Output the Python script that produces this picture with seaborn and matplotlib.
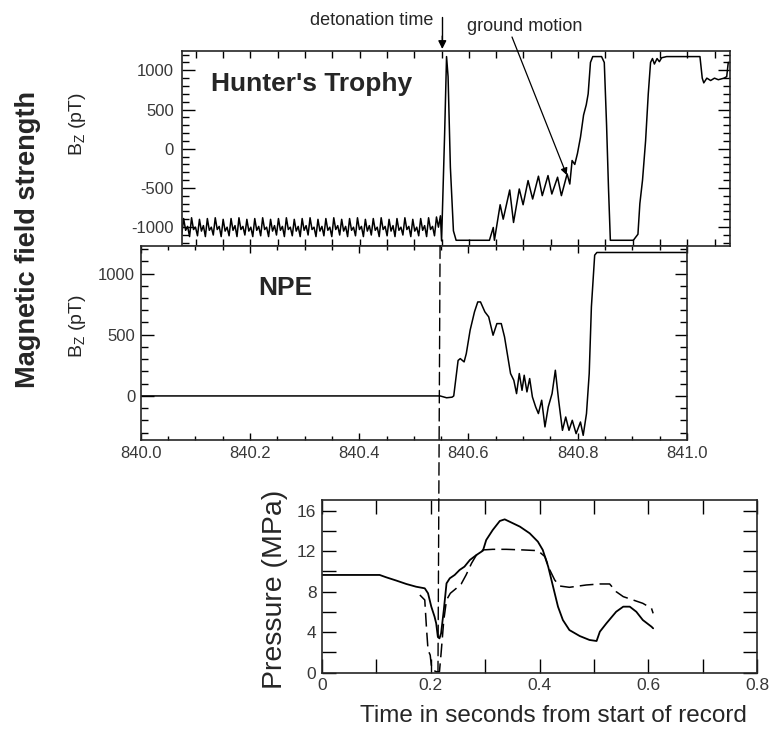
import numpy as np
import pandas as pd
import matplotlib
matplotlib.use("Agg")
import matplotlib.pyplot as plt
import seaborn as sns
from matplotlib.patches import ConnectionPatch
from matplotlib.ticker import MultipleLocator, FixedLocator

# ---- Hunter's Trophy trace (Bz, pT) ----
# pre-detonation ripple, sampled evenly between these two times
pre_t_start, pre_t_end = 840.0744, 840.5480
hunter_pre_bz = [
    -1100, -890, -1040, -990, -1120, -880, -1030, -1000,
    -1110, -900, -1050, -980, -1120, -890, -1040, -1000,
    -1100, -880, -1030, -990, -1120, -900, -1050, -1000,
    -1110, -890, -1040, -980, -1120, -880, -1030, -990,
    -1100, -900, -1050, -1000, -1120, -890, -1040, -990,
    -1110, -880, -1030, -1000, -1120, -900, -1050, -980,
    -1100, -890, -1040, -990, -1120, -880, -1030, -1000,
    -1110, -900, -1050, -990, -1120, -890, -1040, -980,
    -1100, -880, -1030, -1000, -1120, -900, -1050, -990,
    -1110, -890, -1040, -1000, -1120, -880, -1030, -980,
    -1100, -900, -1050, -990, -1120, -890, -1040, -1000,
    -1110, -880, -1030, -990, -1120, -900, -1050, -980,
    -1100, -890, -1040, -1000, -1120, -880, -1030, -990,
    -1110, -900, -1050, -980, -1120, -890, -1040, -1000,
    -1100, -880, -1030, -990, -1120, -900, -1050, -1000,
    -1110, -890, -1040, -980, -1120, -880, -1030, -990,
    -1110, -870, -1000, -855,
]
hunter_post_t = [
    840.5501, 840.5557, 840.5592, 840.5620, 840.5662, 840.5718, 840.5767,
    840.6377, 840.6447, 840.6468, 840.6573, 840.6629, 840.6748, 840.6818,
    840.6923, 840.6993, 840.7084, 840.7168, 840.7274, 840.7344, 840.7449,
    840.7519, 840.7624, 840.7694, 840.7799, 840.7848, 840.7890, 840.7939,
    840.7988, 840.8044, 840.8100, 840.8149, 840.8184, 840.8226, 840.8268,
    840.8429, 840.8479, 840.8521, 840.8556, 840.8590, 840.9011, 840.9095,
    840.9130, 840.9179, 840.9235, 840.9284, 840.9326, 840.9361, 840.9396,
    840.9445, 840.9487, 840.9529, 840.9620, 841.0230, 841.0272, 841.0300,
    841.0356, 841.0426, 841.0496, 841.0566, 841.0671, 841.0720, 841.0748,
    841.0776,
]
hunter_post_bz = [
    -1175, 192, 1175, 919, -235, -1047, -1167,
    -1167, -1004, -1167, -714, -898, -526, -940,
    -513, -714, -406, -641, -350, -598, -342,
    -577, -363, -598, -321, -450, -150, -200,
    -60, 150, 430, 560, 700, 1100, 1175,
    1175, 1100, 300, -500, -1167, -1167, -1090,
    -700, -400, 100, 700, 1100, 1150, 1080,
    1150, 1110, 1160, 1175, 1175, 900, 840,
    900, 870, 900, 880, 900, 920, 1100,
    1100,
]

# ---- NPE trace (Bz, pT) ----
npe_t = [
    840.000, 840.548, 840.560, 840.570, 840.573, 840.581, 840.585, 840.592,
    840.596, 840.603, 840.611, 840.617, 840.622, 840.630, 840.637, 840.645,
    840.652, 840.660, 840.666, 840.672, 840.677, 840.683, 840.688, 840.693,
    840.698, 840.702, 840.707, 840.712, 840.717, 840.723, 840.728, 840.734,
    840.740, 840.746, 840.753, 840.759, 840.765, 840.772, 840.778, 840.784,
    840.790, 840.797, 840.805, 840.810, 840.816, 840.821, 840.825, 840.831,
    840.835, 841.000,
]
npe_bz = [
    0, 0, -15, -10, 0, 290, 305, 278,
    346, 537, 687, 768, 768, 687, 646, 496,
    591, 591, 482, 319, 183, 128, 19, 183,
    46, 169, 33, 142, -8, -90, -144, -35,
    -253, -90, 19, 210, -35, -281, -172, -281,
    -199, -308, -213, -322, -144, 183, 728, 1150,
    1172, 1172,
]

# ---- Pressure records (MPa) ----
p_solid_t = [
    0.000, 0.106, 0.118, 0.137, 0.155, 0.173, 0.189, 0.195, 0.201, 0.207,
    0.210, 0.213, 0.216, 0.219, 0.224, 0.229, 0.235, 0.244, 0.253, 0.262,
    0.272, 0.284, 0.296, 0.302, 0.314, 0.327, 0.336, 0.345, 0.364, 0.382,
    0.397, 0.406, 0.416, 0.425, 0.434, 0.443, 0.455, 0.474, 0.492, 0.505,
    0.511, 0.523, 0.541, 0.554, 0.566, 0.578, 0.590, 0.606, 0.609,
]
p_solid = [
    9.65, 9.65, 9.42, 9.09, 8.76, 8.49, 8.33, 7.84, 6.52, 5.53,
    4.87, 3.56, 3.39, 3.88, 6.19, 8.82, 9.32, 9.65, 10.14, 10.47,
    11.13, 11.62, 12.05, 13.10, 14.09, 14.98, 15.14, 14.91, 14.42, 13.76,
    12.94, 12.12, 10.47, 8.49, 6.52, 5.20, 4.21, 3.62, 3.23, 3.13,
    4.05, 4.87, 6.02, 6.52, 6.52, 6.02, 5.20, 4.54, 4.38,
]
p_dash_t = [
    0.180, 0.189, 0.192, 0.195, 0.199, 0.201, 0.204, 0.210, 0.216, 0.219,
    0.224, 0.229, 0.236, 0.247, 0.256, 0.265, 0.275, 0.284, 0.296, 0.314,
    0.339, 0.370, 0.397, 0.410, 0.419, 0.428, 0.437, 0.455, 0.486, 0.511,
    0.529, 0.541, 0.554, 0.572, 0.590, 0.606, 0.609,
]
p_dash = [
    7.67, 7.18, 4.54, 2.24, 1.74, 0.76, 0.26, 0.10, 0.10, 1.91,
    5.20, 7.18, 7.84, 8.33, 8.76, 9.65, 10.80, 11.62, 12.12, 12.18,
    12.18, 12.12, 12.05, 11.46, 10.14, 9.15, 8.56, 8.43, 8.66, 8.76,
    8.76, 8.00, 7.51, 7.18, 6.85, 6.35, 5.86,
]

detonation_t = 840.548
detonation_p_t = 0.2133

sns.set_style("ticks")
plt.rcParams["font.family"] = ["Liberation Sans", "DejaVu Sans"]
plt.rcParams["mathtext.default"] = "regular"
plt.rcParams["axes.unicode_minus"] = False
plt.rcParams["axes.linewidth"] = 1.2
plt.rcParams["xtick.color"] = "black"
plt.rcParams["ytick.color"] = "black"

tick_color = "#383838"

fig = plt.figure(figsize=(7.71, 7.30), dpi=100)
W, H = 771.0, 730.0


def px_axes(left, top, right, bottom):
    return fig.add_axes([left / W, 1 - bottom / H, (right - left) / W, (bottom - top) / H])


ax_top = px_axes(182, 50.7, 730, 246)
ax_mid = px_axes(140.7, 246, 687, 440)
ax_p = px_axes(322, 500, 757, 672.7)

# top panel
hunter_t = list(np.linspace(pre_t_start, pre_t_end, len(hunter_pre_bz))) + hunter_post_t
hunter_bz = hunter_pre_bz + hunter_post_bz
hunter_df = pd.DataFrame({"t": hunter_t, "bz": hunter_bz})
sns.lineplot(data=hunter_df, x="t", y="bz", ax=ax_top, color="black", lw=1.1,
             sort=False, estimator=None)
ax_top.set_xlim(840.075, 841.078)
ax_top.set_ylim(-1240, 1250)
ax_top.yaxis.set_major_locator(FixedLocator([-1000, -500, 0, 500, 1000]))
ax_top.yaxis.set_minor_locator(MultipleLocator(100))
ax_top.xaxis.set_major_locator(MultipleLocator(0.2))
ax_top.xaxis.set_minor_locator(MultipleLocator(0.05))
ax_top.set_xticklabels([])
ax_top.text(0.0526, 0.796, "Hunter's Trophy", transform=ax_top.transAxes,
            fontsize=19, fontweight="bold", va="baseline", ha="left")

# middle panel
npe_df = pd.DataFrame({"t": npe_t, "bz": npe_bz})
sns.lineplot(data=npe_df, x="t", y="bz", ax=ax_mid, color="black", lw=1.1,
             sort=False, estimator=None)
ax_mid.set_xlim(840.0, 841.0)
ax_mid.set_ylim(-360, 1225)
ax_mid.yaxis.set_major_locator(FixedLocator([0, 500, 1000]))
ax_mid.yaxis.set_minor_locator(MultipleLocator(100))
ax_mid.xaxis.set_minor_locator(MultipleLocator(0.05))
ax_mid.set_xticks([840.0, 840.2, 840.4, 840.6, 840.8, 841.0])
ax_mid.set_xticklabels(["840.0", "840.2", "840.4", "840.6", "840.8", "841.0"])
ax_mid.text(0.2147, 0.747, "NPE", transform=ax_mid.transAxes,
            fontsize=19, fontweight="bold", va="baseline", ha="left")

# pressure panel
solid_df = pd.DataFrame({"t": p_solid_t, "p": p_solid})
dash_df = pd.DataFrame({"t": p_dash_t, "p": p_dash})
sns.lineplot(data=solid_df, x="t", y="p", ax=ax_p, color="black", lw=1.3,
             sort=False, estimator=None)
sns.lineplot(data=dash_df, x="t", y="p", ax=ax_p, color="black", lw=1.1,
             sort=False, estimator=None, dashes=False, linestyle=(0, (9, 4)))
ax_p.set_xlim(0, 0.8)
ax_p.set_ylim(0, 17.05)
ax_p.set_xticks([0, 0.2, 0.4, 0.6, 0.8])
ax_p.set_xticklabels(["0", "0.2", "0.4", "0.6", "0.8"])
ax_p.xaxis.set_minor_locator(MultipleLocator(0.1))
ax_p.set_yticks([0, 4, 8, 12, 16])
ax_p.yaxis.set_minor_locator(MultipleLocator(2))

for ax in (ax_top, ax_mid, ax_p):
    ax.set_xlabel("")
    ax.set_ylabel("")
    ax.tick_params(which="both", direction="in", top=True, right=True,
                   labelsize=12, labelcolor=tick_color, width=1.0)
    ax.tick_params(which="major", length=9, pad=4)
    ax.tick_params(which="minor", length=5)
ax_top.tick_params(axis="y", which="major", pad=6)
ax_mid.tick_params(axis="x", which="major", length=5)
ax_mid.tick_params(axis="x", which="minor", length=3)
ax_top.tick_params(axis="x", which="both", length=5)
ax_p.tick_params(which="both", length=10, labelsize=12.5)

# vertical dashed detonation line across the lower panels
con = ConnectionPatch(xyA=(detonation_t, 1225), coordsA=ax_mid.transData,
                      xyB=(detonation_p_t, 0.2), coordsB=ax_p.transData,
                      color="black", lw=1.0, linestyle=(0, (9, 4)))
fig.add_artist(con)

# annotations
fig.text(310 / W, 1 - 25 / H, "detonation time", fontsize=13, ha="left", va="baseline")
fig.add_artist(plt.Line2D([442.3 / W, 442.3 / W], [1 - 17 / H, 1 - 40 / H], color="black", lw=1.0))
ax_top.annotate("", xy=(442.3 / W, 1 - 49 / H), xycoords="figure fraction",
                xytext=(442.3 / W, 1 - 36 / H), textcoords="figure fraction",
                arrowprops=dict(arrowstyle="-|>", color="black", lw=1.0,
                                mutation_scale=12, shrinkA=0, shrinkB=0))
fig.text(467 / W, 1 - 31 / H, "ground motion", fontsize=13, ha="left", va="baseline")
ax_top.annotate("", xy=(566.7 / W, 1 - 175 / H), xycoords="figure fraction",
                xytext=(512 / W, 1 - 37 / H), textcoords="figure fraction",
                arrowprops=dict(arrowstyle="-|>", color="black", lw=0.9,
                                mutation_scale=10, shrinkA=0, shrinkB=0))

fig.text(28 / W, 1 - 240 / H, "Magnetic field strength", rotation=90, fontsize=19.5,
         fontweight="bold", ha="center", va="center")
fig.text(78 / W, 1 - 124 / H, r"B$_Z$ (pT)", rotation=90, fontsize=14,
         ha="center", va="center")
fig.text(78 / W, 1 - 326 / H, r"B$_Z$ (pT)", rotation=90, fontsize=14,
         ha="center", va="center")
fig.text(275 / W, 1 - 589 / H, "Pressure (MPa)", rotation=90, fontsize=20.5,
         ha="center", va="center")
fig.text(553 / W, 1 - 716 / H, "Time in seconds from start of record", fontsize=17.5,
         ha="center", va="center")

fig.savefig("out.png", dpi=100)
